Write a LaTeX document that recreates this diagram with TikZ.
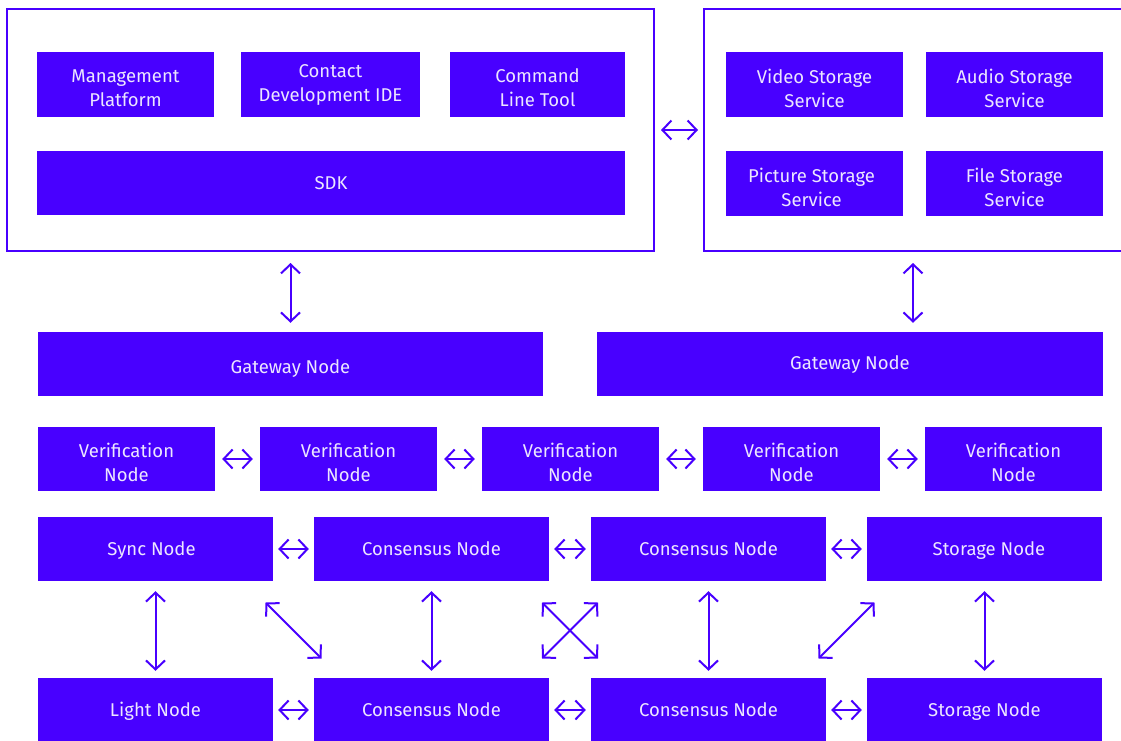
\documentclass[tikz,border=0pt]{standalone}
\usepackage{fontspec}
\setmainfont{Fira Sans}
\usetikzlibrary{arrows.meta,calc}
\definecolor{violet}{HTML}{4800FF}
\definecolor{lilac}{HTML}{ECE6FF}
\tikzset{
  txt/.style={text=lilac, inner sep=0pt, align=center,
    font=\fontsize{18.5}{24}\selectfont},
  line/.style={text height=14pt, text depth=1.6pt},
  box/.style={fill=violet, draw=none, inner sep=0pt, txt, line},
  % captions placed as a centred label, moved by the given offset
  cap/.style 2 args={label={[txt, shift={(#1)}]center:#2}},
  cap1/.style 2 args={label={[txt, line, shift={(#1)}]center:#2}},
  pair/.style={cap={0pt,-3.5pt}{#1}},
  frame/.style={draw=violet, line width=2pt, fill=none, inner sep=0pt},
  link/.style={draw=violet, line width=2pt,
    {Straight Barb[length=9pt,width=19pt,line width=2pt]}-{Straight Barb[length=9pt,width=19pt,line width=2pt]}},
}
\begin{document}
\begin{tikzpicture}[x=1pt,y=-1pt]
\useasboundingbox (0,0) rectangle (1121,740);
\clip (0,0) rectangle (1121,740);

% client side and storage services
\node[frame, minimum width=647, minimum height=242] (client) at (330.5,130) {};
\node[frame, minimum width=440, minimum height=242] (store) at (924,130) {};

\node[box, minimum width=177, minimum height=65, pair={Management\\Platform}] (mgmt) at (125.5,84.5) {};
\node[box, minimum width=179, minimum height=65, cap={0pt,-0.5pt}{Contact\\Development IDE}] (ide) at (330.5,84.5) {};
\node[box, minimum width=175, minimum height=65, pair={Command\\Line Tool}] (cli) at (537.5,84.5) {};
\node[box, minimum width=588, minimum height=64] (sdk) at (331,183) {SDK};

\node[box, minimum width=177, minimum height=65, pair={Video Storage\\Service}] (video) at (814.5,84.5) {};
\node[box, minimum width=177, minimum height=65, pair={Audio Storage\\Service}] (audio) at (1014.5,84.5) {};
\node[box, minimum width=177, minimum height=65, cap={-3pt,-3.5pt}{Picture Storage\\Service}] (pic) at (814.5,183.5) {};
\node[box, minimum width=177, minimum height=65, pair={File Storage\\Service}] (file) at (1014.5,183.5) {};

% gateways
\node[box, minimum width=505, minimum height=64, cap1={0pt,-3pt}{Gateway Node}] (gwL) at (290.5,364) {};
\node[box, minimum width=506, minimum height=64, cap1={0pt,1pt}{Gateway Node}] (gwR) at (850,364) {};

% verification layer
\foreach \i/\x in {1/126.5,2/348.5,3/570.5,4/791.5,5/1013.5}
  \node[box, minimum width=177, minimum height=64, pair={Verification\\Node}] (v\i) at (\x,459) {};

% core network
\node[box, minimum width=235, minimum height=64, cap1={-4pt,0pt}{Sync Node}] (sync) at (155.5,549) {};
\node[box, minimum width=235, minimum height=64] (ca)   at (431.5,549) {Consensus Node};
\node[box, minimum width=235, minimum height=64] (cb)   at (708.5,549) {Consensus Node};
\node[box, minimum width=235, minimum height=64, cap1={4.5pt,0pt}{Storage Node}] (sa) at (984.5,549) {};

\node[box, minimum width=235, minimum height=64] (light) at (155.5,710) {Light Node};
\node[box, minimum width=235, minimum height=64] (cc)    at (431.5,710) {Consensus Node};
\node[box, minimum width=235, minimum height=64] (cd)    at (708.5,710) {Consensus Node};
\node[box, minimum width=235, minimum height=64] (sb)    at (984.5,710) {Storage Node};

% links
\draw[link, shorten <=6pt, shorten >=5pt] (client.east) -- (store.west);
\draw[link, shorten <=11pt, shorten >=9pt] (gwL.north |- client.south) -- (gwL.north);
\draw[link, shorten <=11pt, shorten >=9pt] ([xshift=-11pt]store.south) -- ([xshift=-11pt]store.south |- gwR.north);

\foreach \a/\b in {1/2,2/3,3/4,4/5}
  \draw[link, shorten <=7pt, shorten >=7pt] (v\a.east) -- (v\b.west);

\foreach \a/\b in {sync/ca,ca/cb,cb/sa,light/cc,cc/cd,cd/sb}
  \draw[link, shorten <=5pt, shorten >=5pt] (\a.east) -- (\b.west);

\foreach \a/\b in {sync/light,ca/cc,cb/cd,sa/sb}
  \draw[link, shorten <=10pt, shorten >=7pt] (\a.south) -- (\b.north);

\coordinate (dl) at ($(sync.south east)!0.5!(cc.north west)$);
\coordinate (dm) at ($(ca.south east)!0.5!(cd.north west)$);
\coordinate (dr) at ($(cb.south east)!0.5!(sb.north west)$);
\draw[link] ($(dl)+(-28,-27)$) -- ($(dl)+(28,29)$);
\draw[link] ($(dm)+(-28,-27)$) -- ($(dm)+(28,29)$);
\draw[link] ($(dm)+(28,-27)$) -- ($(dm)+(-28,29)$);
\draw[link] ($(dr)+(28,-27)$) -- ($(dr)+(-28,29)$);
\end{tikzpicture}
\end{document}
